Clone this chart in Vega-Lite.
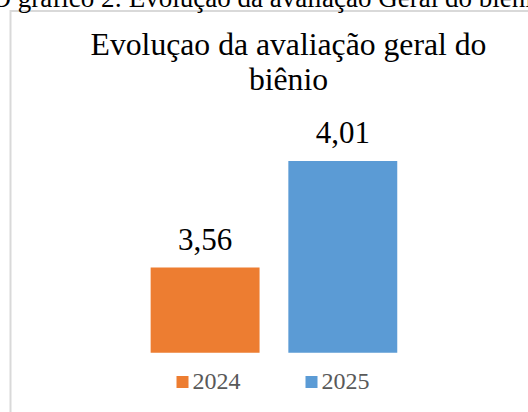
{
  "$schema": "https://vega.github.io/schema/vega-lite/v6.json",
  "autosize": {"type": "none"},
  "padding": {"left": 10.5, "top": 11, "right": -4.5, "bottom": -4},
  "width": 522,
  "height": 405,
  "background": "white",
  "data": {"values": [
    {"ano": "2024", "valor": 3.56, "rotulo": "3,56"},
    {"ano": "2025", "valor": 4.01, "rotulo": "4,01"}
  ]},
  "encoding": {
    "x": {
      "field": "ano", "type": "nominal", "sort": null,
      "scale": {"paddingInner": 0.209, "paddingOuter": 1.0522, "align": 0.5089, "round": false},
      "axis": {
        "orient": "top", "labels": false, "ticks": false, "domain": false, "grid": false,
        "title": ["Evoluçao da avaliação geral do", "biênio"],
        "titleFont": "Liberation Serif", "titleFontSize": 31.7, "titleFontWeight": "normal",
        "titleColor": "#000000", "titleAlign": "center", "titleBaseline": "alphabetic",
        "titleX": 277.5, "titleY": 43, "titleLineHeight": 35
      }
    },
    "y": {
      "field": "valor", "type": "quantitative",
      "scale": {"domain": [2.9327, 4.6437], "nice": false, "zero": false},
      "axis": {
        "labels": false, "ticks": false, "domain": false, "grid": false,
        "title": "O gráfico 2: Evolução da avaliação Geral do biênio",
        "titleAngle": 0, "titleAlign": "left", "titleBaseline": "alphabetic",
        "titleX": -19.5, "titleY": -5,
        "titleFont": "Liberation Serif", "titleFontSize": 27, "titleFontWeight": "normal",
        "titleColor": "#000000"
      }
    }
  },
  "layer": [
    {
      "mark": {"type": "bar"},
      "encoding": {
        "y2": {"datum": 3.2},
        "color": {
          "field": "ano", "type": "nominal",
          "scale": {"domain": ["2024", "2025"], "range": ["#ED7D31", "#5B9BD5"]},
          "legend": {
            "orient": "none", "legendX": 160, "legendY": 359, "direction": "horizontal",
            "title": null, "symbolType": "square", "symbolSize": 144, "symbolStrokeWidth": 0,
            "symbolOpacity": 1,
            "labelFont": "Liberation Serif", "labelFontSize": 24, "labelColor": "#595959",
            "labelOffset": -2, "columnPadding": 59, "padding": 0
          }
        }
      }
    },
    {
      "mark": {"type": "text", "font": "Liberation Serif", "fontSize": 31, "baseline": "alphabetic", "dy": -18, "color": "#000000"},
      "encoding": {"text": {"field": "rotulo"}}
    }
  ],
  "config": {"view": {"stroke": "#D9D9D9", "strokeWidth": 2}}
}
